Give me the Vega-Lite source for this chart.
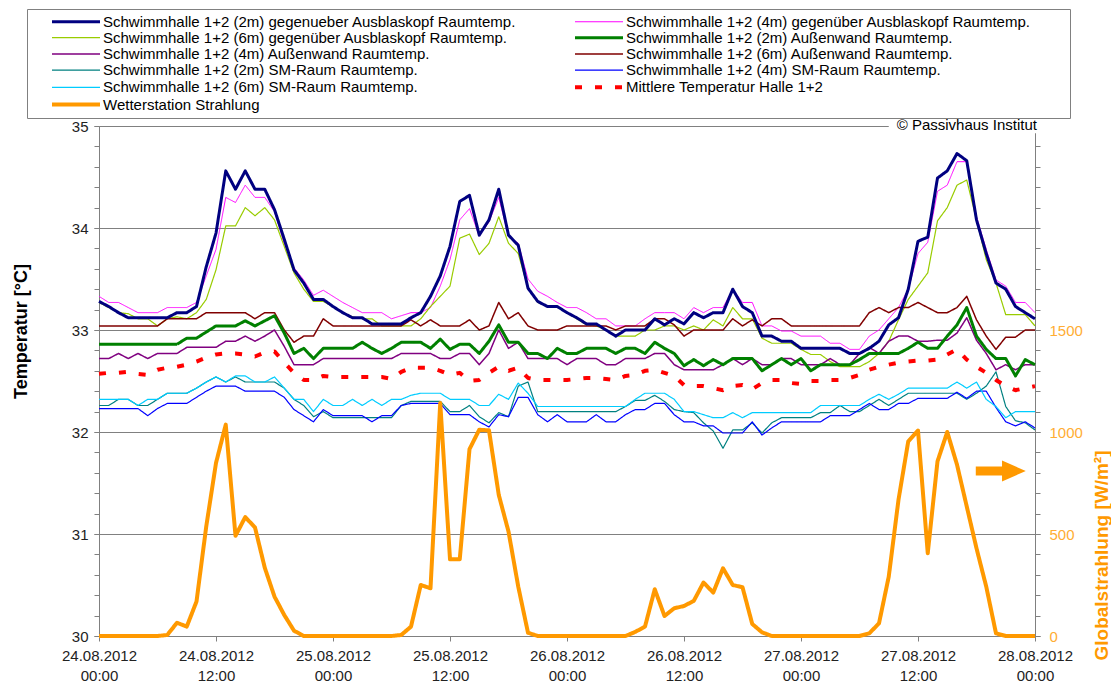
{
"$schema":"https://vega.github.io/schema/vega-lite/v6.json",
"width":936,"height":510,
"autosize":{"type":"none"},
"padding":{"left":99,"top":126,"right":76,"bottom":49},
"background":"white",
"config":{"view":{"stroke":null},"font":"Liberation Sans",
"axis":{"labelFont":"Liberation Sans","titleFont":"Liberation Sans","domainColor":"#808080","tickColor":"#808080","labelColor":"#222222","labelFontSize":15,"tickSize":5,"grid":false,"labelOverlap":false}},
"data":{"values":[
{"h":0,"s":"B","v":33.33},{"h":1,"s":"B","v":33.27},{"h":2,"s":"B","v":33.27},{"h":3,"s":"B","v":33.22},{"h":4,"s":"B","v":33.17},{"h":5,"s":"B","v":33.17},{"h":6,"s":"B","v":33.17},{"h":7,"s":"B","v":33.22},{"h":8,"s":"B","v":33.22},{"h":9,"s":"B","v":33.22},
{"h":10,"s":"B","v":33.27},{"h":11,"s":"B","v":33.53},{"h":12,"s":"B","v":33.79},{"h":13,"s":"B","v":34.30},{"h":14,"s":"B","v":34.25},{"h":15,"s":"B","v":34.42},{"h":16,"s":"B","v":34.30},{"h":17,"s":"B","v":34.30},{"h":18,"s":"B","v":34.16},{"h":19,"s":"B","v":33.85},
{"h":20,"s":"B","v":33.61},{"h":21,"s":"B","v":33.49},{"h":22,"s":"B","v":33.34},{"h":23,"s":"B","v":33.39},{"h":24,"s":"B","v":33.33},{"h":25,"s":"B","v":33.27},{"h":26,"s":"B","v":33.22},{"h":27,"s":"B","v":33.17},{"h":28,"s":"B","v":33.17},{"h":29,"s":"B","v":33.17},
{"h":30,"s":"B","v":33.11},{"h":31,"s":"B","v":33.14},{"h":32,"s":"B","v":33.17},{"h":33,"s":"B","v":33.17},{"h":34,"s":"B","v":33.22},{"h":35,"s":"B","v":33.43},{"h":36,"s":"B","v":33.69},{"h":37,"s":"B","v":34.08},{"h":38,"s":"B","v":34.19},{"h":39,"s":"B","v":33.92},
{"h":40,"s":"B","v":34.06},{"h":41,"s":"B","v":34.30},{"h":42,"s":"B","v":33.92},{"h":43,"s":"B","v":33.85},{"h":44,"s":"B","v":33.50},{"h":45,"s":"B","v":33.38},{"h":46,"s":"B","v":33.33},{"h":47,"s":"B","v":33.27},{"h":48,"s":"B","v":33.22},{"h":49,"s":"B","v":33.22},
{"h":50,"s":"B","v":33.17},{"h":51,"s":"B","v":33.11},{"h":52,"s":"B","v":33.11},{"h":53,"s":"B","v":33.04},{"h":54,"s":"B","v":33.04},{"h":55,"s":"B","v":33.04},{"h":56,"s":"B","v":33.11},{"h":57,"s":"B","v":33.17},{"h":58,"s":"B","v":33.17},{"h":59,"s":"B","v":33.17},
{"h":60,"s":"B","v":33.11},{"h":61,"s":"B","v":33.22},{"h":62,"s":"B","v":33.17},{"h":63,"s":"B","v":33.22},{"h":64,"s":"B","v":33.22},{"h":65,"s":"B","v":33.40},{"h":66,"s":"B","v":33.27},{"h":67,"s":"B","v":33.27},{"h":68,"s":"B","v":33.04},{"h":69,"s":"B","v":33.04},
{"h":70,"s":"B","v":32.99},{"h":71,"s":"B","v":32.99},{"h":72,"s":"B","v":32.94},{"h":73,"s":"B","v":32.94},{"h":74,"s":"B","v":32.94},{"h":75,"s":"B","v":32.87},{"h":76,"s":"B","v":32.87},{"h":77,"s":"B","v":32.81},{"h":78,"s":"B","v":32.81},{"h":79,"s":"B","v":32.94},
{"h":80,"s":"B","v":33.00},{"h":81,"s":"B","v":33.11},{"h":82,"s":"B","v":33.22},{"h":83,"s":"B","v":33.40},{"h":84,"s":"B","v":33.75},{"h":85,"s":"B","v":33.86},{"h":86,"s":"B","v":34.36},{"h":87,"s":"B","v":34.42},{"h":88,"s":"B","v":34.65},{"h":89,"s":"B","v":34.65},
{"h":90,"s":"B","v":34.11},{"h":91,"s":"B","v":33.79},{"h":92,"s":"B","v":33.49},{"h":93,"s":"B","v":33.43},{"h":94,"s":"B","v":33.27},{"h":95,"s":"B","v":33.27},{"h":96,"s":"B","v":33.17},
{"h":0,"s":"C","v":33.27},{"h":1,"s":"C","v":33.22},{"h":2,"s":"C","v":33.17},{"h":3,"s":"C","v":33.16},{"h":4,"s":"C","v":33.11},{"h":5,"s":"C","v":33.11},{"h":6,"s":"C","v":33.04},{"h":7,"s":"C","v":33.11},{"h":8,"s":"C","v":33.13},{"h":9,"s":"C","v":33.11},
{"h":10,"s":"C","v":33.17},{"h":11,"s":"C","v":33.30},{"h":12,"s":"C","v":33.59},{"h":13,"s":"C","v":34.02},{"h":14,"s":"C","v":34.02},{"h":15,"s":"C","v":34.20},{"h":16,"s":"C","v":34.12},{"h":17,"s":"C","v":34.20},{"h":18,"s":"C","v":34.08},{"h":19,"s":"C","v":33.82},
{"h":20,"s":"C","v":33.56},{"h":21,"s":"C","v":33.40},{"h":22,"s":"C","v":33.28},{"h":23,"s":"C","v":33.28},{"h":24,"s":"C","v":33.23},{"h":25,"s":"C","v":33.17},{"h":26,"s":"C","v":33.13},{"h":27,"s":"C","v":33.11},{"h":28,"s":"C","v":33.11},{"h":29,"s":"C","v":33.04},
{"h":30,"s":"C","v":33.04},{"h":31,"s":"C","v":33.04},{"h":32,"s":"C","v":33.04},{"h":33,"s":"C","v":33.11},{"h":34,"s":"C","v":33.23},{"h":35,"s":"C","v":33.33},{"h":36,"s":"C","v":33.43},{"h":37,"s":"C","v":33.90},{"h":38,"s":"C","v":33.94},{"h":39,"s":"C","v":33.74},
{"h":40,"s":"C","v":33.85},{"h":41,"s":"C","v":34.11},{"h":42,"s":"C","v":33.85},{"h":43,"s":"C","v":33.75},{"h":44,"s":"C","v":33.41},{"h":45,"s":"C","v":33.27},{"h":46,"s":"C","v":33.23},{"h":47,"s":"C","v":33.23},{"h":48,"s":"C","v":33.17},{"h":49,"s":"C","v":33.11},
{"h":50,"s":"C","v":33.05},{"h":51,"s":"C","v":33.04},{"h":52,"s":"C","v":33.00},{"h":53,"s":"C","v":32.94},{"h":54,"s":"C","v":32.94},{"h":55,"s":"C","v":32.94},{"h":56,"s":"C","v":33.00},{"h":57,"s":"C","v":33.00},{"h":58,"s":"C","v":33.04},{"h":59,"s":"C","v":33.04},
{"h":60,"s":"C","v":33.00},{"h":61,"s":"C","v":33.04},{"h":62,"s":"C","v":33.00},{"h":63,"s":"C","v":33.10},{"h":64,"s":"C","v":33.04},{"h":65,"s":"C","v":33.22},{"h":66,"s":"C","v":33.11},{"h":67,"s":"C","v":33.11},{"h":68,"s":"C","v":32.92},{"h":69,"s":"C","v":32.87},
{"h":70,"s":"C","v":32.87},{"h":71,"s":"C","v":32.87},{"h":72,"s":"C","v":32.81},{"h":73,"s":"C","v":32.76},{"h":74,"s":"C","v":32.76},{"h":75,"s":"C","v":32.69},{"h":76,"s":"C","v":32.64},{"h":77,"s":"C","v":32.64},{"h":78,"s":"C","v":32.64},{"h":79,"s":"C","v":32.69},
{"h":80,"s":"C","v":32.77},{"h":81,"s":"C","v":32.89},{"h":82,"s":"C","v":33.10},{"h":83,"s":"C","v":33.30},{"h":84,"s":"C","v":33.43},{"h":85,"s":"C","v":33.56},{"h":86,"s":"C","v":34.07},{"h":87,"s":"C","v":34.20},{"h":88,"s":"C","v":34.42},{"h":89,"s":"C","v":34.47},
{"h":90,"s":"C","v":34.08},{"h":91,"s":"C","v":33.69},{"h":92,"s":"C","v":33.46},{"h":93,"s":"C","v":33.15},{"h":94,"s":"C","v":33.15},{"h":95,"s":"C","v":33.15},{"h":96,"s":"C","v":33.04},
{"h":0,"s":"E","v":32.72},{"h":1,"s":"E","v":32.72},{"h":2,"s":"E","v":32.77},{"h":3,"s":"E","v":32.72},{"h":4,"s":"E","v":32.77},{"h":5,"s":"E","v":32.72},{"h":6,"s":"E","v":32.77},{"h":7,"s":"E","v":32.77},{"h":8,"s":"E","v":32.77},{"h":9,"s":"E","v":32.83},
{"h":10,"s":"E","v":32.83},{"h":11,"s":"E","v":32.83},{"h":12,"s":"E","v":32.83},{"h":13,"s":"E","v":32.89},{"h":14,"s":"E","v":32.89},{"h":15,"s":"E","v":32.94},{"h":16,"s":"E","v":32.89},{"h":17,"s":"E","v":32.94},{"h":18,"s":"E","v":33.00},{"h":19,"s":"E","v":32.84},
{"h":20,"s":"E","v":32.66},{"h":21,"s":"E","v":32.66},{"h":22,"s":"E","v":32.66},{"h":23,"s":"E","v":32.72},{"h":24,"s":"E","v":32.72},{"h":25,"s":"E","v":32.72},{"h":26,"s":"E","v":32.72},{"h":27,"s":"E","v":32.72},{"h":28,"s":"E","v":32.72},{"h":29,"s":"E","v":32.72},
{"h":30,"s":"E","v":32.72},{"h":31,"s":"E","v":32.77},{"h":32,"s":"E","v":32.77},{"h":33,"s":"E","v":32.77},{"h":34,"s":"E","v":32.77},{"h":35,"s":"E","v":32.72},{"h":36,"s":"E","v":32.72},{"h":37,"s":"E","v":32.77},{"h":38,"s":"E","v":32.77},{"h":39,"s":"E","v":32.66},
{"h":40,"s":"E","v":32.77},{"h":41,"s":"E","v":33.00},{"h":42,"s":"E","v":32.82},{"h":43,"s":"E","v":32.88},{"h":44,"s":"E","v":32.72},{"h":45,"s":"E","v":32.72},{"h":46,"s":"E","v":32.72},{"h":47,"s":"E","v":32.72},{"h":48,"s":"E","v":32.66},{"h":49,"s":"E","v":32.72},
{"h":50,"s":"E","v":32.72},{"h":51,"s":"E","v":32.72},{"h":52,"s":"E","v":32.66},{"h":53,"s":"E","v":32.66},{"h":54,"s":"E","v":32.72},{"h":55,"s":"E","v":32.72},{"h":56,"s":"E","v":32.72},{"h":57,"s":"E","v":32.77},{"h":58,"s":"E","v":32.77},{"h":59,"s":"E","v":32.66},
{"h":60,"s":"E","v":32.61},{"h":61,"s":"E","v":32.61},{"h":62,"s":"E","v":32.61},{"h":63,"s":"E","v":32.61},{"h":64,"s":"E","v":32.66},{"h":65,"s":"E","v":32.72},{"h":66,"s":"E","v":32.66},{"h":67,"s":"E","v":32.72},{"h":68,"s":"E","v":32.66},{"h":69,"s":"E","v":32.66},
{"h":70,"s":"E","v":32.72},{"h":71,"s":"E","v":32.72},{"h":72,"s":"E","v":32.66},{"h":73,"s":"E","v":32.66},{"h":74,"s":"E","v":32.66},{"h":75,"s":"E","v":32.72},{"h":76,"s":"E","v":32.66},{"h":77,"s":"E","v":32.66},{"h":78,"s":"E","v":32.77},{"h":79,"s":"E","v":32.83},
{"h":80,"s":"E","v":32.77},{"h":81,"s":"E","v":32.89},{"h":82,"s":"E","v":32.94},{"h":83,"s":"E","v":32.94},{"h":84,"s":"E","v":32.89},{"h":85,"s":"E","v":32.89},{"h":86,"s":"E","v":32.90},{"h":87,"s":"E","v":32.90},{"h":88,"s":"E","v":32.97},{"h":89,"s":"E","v":33.12},
{"h":90,"s":"E","v":32.90},{"h":91,"s":"E","v":32.77},{"h":92,"s":"E","v":32.61},{"h":93,"s":"E","v":32.66},{"h":94,"s":"E","v":32.61},{"h":95,"s":"E","v":32.66},{"h":96,"s":"E","v":32.66},
{"h":0,"s":"F","v":33.04},{"h":1,"s":"F","v":33.04},{"h":2,"s":"F","v":33.04},{"h":3,"s":"F","v":33.04},{"h":4,"s":"F","v":33.04},{"h":5,"s":"F","v":33.04},{"h":6,"s":"F","v":33.04},{"h":7,"s":"F","v":33.11},{"h":8,"s":"F","v":33.11},{"h":9,"s":"F","v":33.11},
{"h":10,"s":"F","v":33.11},{"h":11,"s":"F","v":33.17},{"h":12,"s":"F","v":33.17},{"h":13,"s":"F","v":33.17},{"h":14,"s":"F","v":33.17},{"h":15,"s":"F","v":33.17},{"h":16,"s":"F","v":33.11},{"h":17,"s":"F","v":33.17},{"h":18,"s":"F","v":33.17},{"h":19,"s":"F","v":33.00},
{"h":20,"s":"F","v":32.88},{"h":21,"s":"F","v":32.94},{"h":22,"s":"F","v":32.94},{"h":23,"s":"F","v":33.11},{"h":24,"s":"F","v":33.04},{"h":25,"s":"F","v":33.04},{"h":26,"s":"F","v":33.04},{"h":27,"s":"F","v":33.04},{"h":28,"s":"F","v":33.04},{"h":29,"s":"F","v":33.04},
{"h":30,"s":"F","v":33.04},{"h":31,"s":"F","v":33.04},{"h":32,"s":"F","v":33.10},{"h":33,"s":"F","v":33.04},{"h":34,"s":"F","v":33.10},{"h":35,"s":"F","v":33.04},{"h":36,"s":"F","v":33.04},{"h":37,"s":"F","v":33.04},{"h":38,"s":"F","v":33.10},{"h":39,"s":"F","v":33.00},
{"h":40,"s":"F","v":33.04},{"h":41,"s":"F","v":33.27},{"h":42,"s":"F","v":33.11},{"h":43,"s":"F","v":33.17},{"h":44,"s":"F","v":33.04},{"h":45,"s":"F","v":33.00},{"h":46,"s":"F","v":33.00},{"h":47,"s":"F","v":33.00},{"h":48,"s":"F","v":33.04},{"h":49,"s":"F","v":33.04},
{"h":50,"s":"F","v":33.04},{"h":51,"s":"F","v":33.04},{"h":52,"s":"F","v":33.04},{"h":53,"s":"F","v":33.00},{"h":54,"s":"F","v":33.04},{"h":55,"s":"F","v":33.04},{"h":56,"s":"F","v":33.04},{"h":57,"s":"F","v":33.11},{"h":58,"s":"F","v":33.11},{"h":59,"s":"F","v":33.05},
{"h":60,"s":"F","v":32.94},{"h":61,"s":"F","v":33.00},{"h":62,"s":"F","v":33.00},{"h":63,"s":"F","v":33.00},{"h":64,"s":"F","v":33.00},{"h":65,"s":"F","v":33.11},{"h":66,"s":"F","v":33.04},{"h":67,"s":"F","v":33.10},{"h":68,"s":"F","v":33.04},{"h":69,"s":"F","v":33.11},
{"h":70,"s":"F","v":33.11},{"h":71,"s":"F","v":33.04},{"h":72,"s":"F","v":33.04},{"h":73,"s":"F","v":33.04},{"h":74,"s":"F","v":33.04},{"h":75,"s":"F","v":33.04},{"h":76,"s":"F","v":33.04},{"h":77,"s":"F","v":33.04},{"h":78,"s":"F","v":33.04},{"h":79,"s":"F","v":33.17},
{"h":80,"s":"F","v":33.22},{"h":81,"s":"F","v":33.17},{"h":82,"s":"F","v":33.22},{"h":83,"s":"F","v":33.22},{"h":84,"s":"F","v":33.27},{"h":85,"s":"F","v":33.22},{"h":86,"s":"F","v":33.17},{"h":87,"s":"F","v":33.17},{"h":88,"s":"F","v":33.22},{"h":89,"s":"F","v":33.33},
{"h":90,"s":"F","v":33.10},{"h":91,"s":"F","v":32.94},{"h":92,"s":"F","v":32.81},{"h":93,"s":"F","v":32.93},{"h":94,"s":"F","v":32.93},{"h":95,"s":"F","v":33.00},{"h":96,"s":"F","v":33.00},
{"h":0,"s":"G","v":32.26},{"h":1,"s":"G","v":32.26},{"h":2,"s":"G","v":32.32},{"h":3,"s":"G","v":32.32},{"h":4,"s":"G","v":32.26},{"h":5,"s":"G","v":32.26},{"h":6,"s":"G","v":32.32},{"h":7,"s":"G","v":32.38},{"h":8,"s":"G","v":32.38},{"h":9,"s":"G","v":32.38},
{"h":10,"s":"G","v":32.43},{"h":11,"s":"G","v":32.49},{"h":12,"s":"G","v":32.54},{"h":13,"s":"G","v":32.49},{"h":14,"s":"G","v":32.54},{"h":15,"s":"G","v":32.49},{"h":16,"s":"G","v":32.49},{"h":17,"s":"G","v":32.49},{"h":18,"s":"G","v":32.49},{"h":19,"s":"G","v":32.43},
{"h":20,"s":"G","v":32.32},{"h":21,"s":"G","v":32.26},{"h":22,"s":"G","v":32.15},{"h":23,"s":"G","v":32.20},{"h":24,"s":"G","v":32.14},{"h":25,"s":"G","v":32.14},{"h":26,"s":"G","v":32.14},{"h":27,"s":"G","v":32.14},{"h":28,"s":"G","v":32.14},{"h":29,"s":"G","v":32.14},
{"h":30,"s":"G","v":32.14},{"h":31,"s":"G","v":32.26},{"h":32,"s":"G","v":32.30},{"h":33,"s":"G","v":32.30},{"h":34,"s":"G","v":32.30},{"h":35,"s":"G","v":32.30},{"h":36,"s":"G","v":32.20},{"h":37,"s":"G","v":32.20},{"h":38,"s":"G","v":32.26},{"h":39,"s":"G","v":32.15},
{"h":40,"s":"G","v":32.09},{"h":41,"s":"G","v":32.19},{"h":42,"s":"G","v":32.15},{"h":43,"s":"G","v":32.45},{"h":44,"s":"G","v":32.49},{"h":45,"s":"G","v":32.20},{"h":46,"s":"G","v":32.20},{"h":47,"s":"G","v":32.20},{"h":48,"s":"G","v":32.20},{"h":49,"s":"G","v":32.20},
{"h":50,"s":"G","v":32.20},{"h":51,"s":"G","v":32.20},{"h":52,"s":"G","v":32.20},{"h":53,"s":"G","v":32.20},{"h":54,"s":"G","v":32.25},{"h":55,"s":"G","v":32.31},{"h":56,"s":"G","v":32.31},{"h":57,"s":"G","v":32.36},{"h":58,"s":"G","v":32.30},{"h":59,"s":"G","v":32.22},
{"h":60,"s":"G","v":32.20},{"h":61,"s":"G","v":32.19},{"h":62,"s":"G","v":32.09},{"h":63,"s":"G","v":32.01},{"h":64,"s":"G","v":31.84},{"h":65,"s":"G","v":32.02},{"h":66,"s":"G","v":32.02},{"h":67,"s":"G","v":32.09},{"h":68,"s":"G","v":31.99},{"h":69,"s":"G","v":32.09},
{"h":70,"s":"G","v":32.14},{"h":71,"s":"G","v":32.14},{"h":72,"s":"G","v":32.14},{"h":73,"s":"G","v":32.14},{"h":74,"s":"G","v":32.19},{"h":75,"s":"G","v":32.19},{"h":76,"s":"G","v":32.26},{"h":77,"s":"G","v":32.20},{"h":78,"s":"G","v":32.20},{"h":79,"s":"G","v":32.26},
{"h":80,"s":"G","v":32.32},{"h":81,"s":"G","v":32.26},{"h":82,"s":"G","v":32.32},{"h":83,"s":"G","v":32.38},{"h":84,"s":"G","v":32.38},{"h":85,"s":"G","v":32.38},{"h":86,"s":"G","v":32.38},{"h":87,"s":"G","v":32.38},{"h":88,"s":"G","v":32.38},{"h":89,"s":"G","v":32.32},
{"h":90,"s":"G","v":32.38},{"h":91,"s":"G","v":32.45},{"h":92,"s":"G","v":32.59},{"h":93,"s":"G","v":32.25},{"h":94,"s":"G","v":32.11},{"h":95,"s":"G","v":32.09},{"h":96,"s":"G","v":32.02},
{"h":0,"s":"H","v":32.23},{"h":1,"s":"H","v":32.23},{"h":2,"s":"H","v":32.23},{"h":3,"s":"H","v":32.23},{"h":4,"s":"H","v":32.23},{"h":5,"s":"H","v":32.16},{"h":6,"s":"H","v":32.23},{"h":7,"s":"H","v":32.28},{"h":8,"s":"H","v":32.28},{"h":9,"s":"H","v":32.28},
{"h":10,"s":"H","v":32.34},{"h":11,"s":"H","v":32.40},{"h":12,"s":"H","v":32.45},{"h":13,"s":"H","v":32.45},{"h":14,"s":"H","v":32.45},{"h":15,"s":"H","v":32.40},{"h":16,"s":"H","v":32.40},{"h":17,"s":"H","v":32.40},{"h":18,"s":"H","v":32.40},{"h":19,"s":"H","v":32.34},
{"h":20,"s":"H","v":32.22},{"h":21,"s":"H","v":32.16},{"h":22,"s":"H","v":32.10},{"h":23,"s":"H","v":32.22},{"h":24,"s":"H","v":32.16},{"h":25,"s":"H","v":32.16},{"h":26,"s":"H","v":32.16},{"h":27,"s":"H","v":32.16},{"h":28,"s":"H","v":32.10},{"h":29,"s":"H","v":32.16},
{"h":30,"s":"H","v":32.16},{"h":31,"s":"H","v":32.26},{"h":32,"s":"H","v":32.28},{"h":33,"s":"H","v":32.28},{"h":34,"s":"H","v":32.28},{"h":35,"s":"H","v":32.28},{"h":36,"s":"H","v":32.17},{"h":37,"s":"H","v":32.17},{"h":38,"s":"H","v":32.17},{"h":39,"s":"H","v":32.10},
{"h":40,"s":"H","v":32.05},{"h":41,"s":"H","v":32.17},{"h":42,"s":"H","v":32.15},{"h":43,"s":"H","v":32.34},{"h":44,"s":"H","v":32.34},{"h":45,"s":"H","v":32.17},{"h":46,"s":"H","v":32.10},{"h":47,"s":"H","v":32.17},{"h":48,"s":"H","v":32.10},{"h":49,"s":"H","v":32.10},
{"h":50,"s":"H","v":32.10},{"h":51,"s":"H","v":32.17},{"h":52,"s":"H","v":32.10},{"h":53,"s":"H","v":32.10},{"h":54,"s":"H","v":32.17},{"h":55,"s":"H","v":32.22},{"h":56,"s":"H","v":32.22},{"h":57,"s":"H","v":32.28},{"h":58,"s":"H","v":32.28},{"h":59,"s":"H","v":32.17},
{"h":60,"s":"H","v":32.10},{"h":61,"s":"H","v":32.10},{"h":62,"s":"H","v":32.06},{"h":63,"s":"H","v":32.06},{"h":64,"s":"H","v":31.99},{"h":65,"s":"H","v":31.99},{"h":66,"s":"H","v":31.99},{"h":67,"s":"H","v":32.10},{"h":68,"s":"H","v":31.97},{"h":69,"s":"H","v":32.04},
{"h":70,"s":"H","v":32.10},{"h":71,"s":"H","v":32.10},{"h":72,"s":"H","v":32.10},{"h":73,"s":"H","v":32.10},{"h":74,"s":"H","v":32.10},{"h":75,"s":"H","v":32.16},{"h":76,"s":"H","v":32.16},{"h":77,"s":"H","v":32.16},{"h":78,"s":"H","v":32.22},{"h":79,"s":"H","v":32.28},
{"h":80,"s":"H","v":32.22},{"h":81,"s":"H","v":32.22},{"h":82,"s":"H","v":32.28},{"h":83,"s":"H","v":32.28},{"h":84,"s":"H","v":32.33},{"h":85,"s":"H","v":32.33},{"h":86,"s":"H","v":32.33},{"h":87,"s":"H","v":32.33},{"h":88,"s":"H","v":32.39},{"h":89,"s":"H","v":32.33},
{"h":90,"s":"H","v":32.40},{"h":91,"s":"H","v":32.40},{"h":92,"s":"H","v":32.24},{"h":93,"s":"H","v":32.10},{"h":94,"s":"H","v":32.06},{"h":95,"s":"H","v":32.10},{"h":96,"s":"H","v":32.04},
{"h":0,"s":"I","v":32.32},{"h":1,"s":"I","v":32.32},{"h":2,"s":"I","v":32.32},{"h":3,"s":"I","v":32.32},{"h":4,"s":"I","v":32.26},{"h":5,"s":"I","v":32.32},{"h":6,"s":"I","v":32.32},{"h":7,"s":"I","v":32.38},{"h":8,"s":"I","v":32.38},{"h":9,"s":"I","v":32.38},
{"h":10,"s":"I","v":32.43},{"h":11,"s":"I","v":32.49},{"h":12,"s":"I","v":32.54},{"h":13,"s":"I","v":32.49},{"h":14,"s":"I","v":32.55},{"h":15,"s":"I","v":32.55},{"h":16,"s":"I","v":32.49},{"h":17,"s":"I","v":32.49},{"h":18,"s":"I","v":32.54},{"h":19,"s":"I","v":32.43},
{"h":20,"s":"I","v":32.32},{"h":21,"s":"I","v":32.32},{"h":22,"s":"I","v":32.20},{"h":23,"s":"I","v":32.32},{"h":24,"s":"I","v":32.26},{"h":25,"s":"I","v":32.26},{"h":26,"s":"I","v":32.32},{"h":27,"s":"I","v":32.26},{"h":28,"s":"I","v":32.32},{"h":29,"s":"I","v":32.26},
{"h":30,"s":"I","v":32.32},{"h":31,"s":"I","v":32.32},{"h":32,"s":"I","v":32.36},{"h":33,"s":"I","v":32.38},{"h":34,"s":"I","v":32.38},{"h":35,"s":"I","v":32.38},{"h":36,"s":"I","v":32.32},{"h":37,"s":"I","v":32.32},{"h":38,"s":"I","v":32.32},{"h":39,"s":"I","v":32.26},
{"h":40,"s":"I","v":32.26},{"h":41,"s":"I","v":32.37},{"h":42,"s":"I","v":32.32},{"h":43,"s":"I","v":32.48},{"h":44,"s":"I","v":32.38},{"h":45,"s":"I","v":32.25},{"h":46,"s":"I","v":32.25},{"h":47,"s":"I","v":32.25},{"h":48,"s":"I","v":32.25},{"h":49,"s":"I","v":32.25},
{"h":50,"s":"I","v":32.25},{"h":51,"s":"I","v":32.25},{"h":52,"s":"I","v":32.25},{"h":53,"s":"I","v":32.25},{"h":54,"s":"I","v":32.25},{"h":55,"s":"I","v":32.32},{"h":56,"s":"I","v":32.38},{"h":57,"s":"I","v":32.38},{"h":58,"s":"I","v":32.38},{"h":59,"s":"I","v":32.32},
{"h":60,"s":"I","v":32.20},{"h":61,"s":"I","v":32.20},{"h":62,"s":"I","v":32.17},{"h":63,"s":"I","v":32.14},{"h":64,"s":"I","v":32.14},{"h":65,"s":"I","v":32.19},{"h":66,"s":"I","v":32.14},{"h":67,"s":"I","v":32.19},{"h":68,"s":"I","v":32.19},{"h":69,"s":"I","v":32.19},
{"h":70,"s":"I","v":32.19},{"h":71,"s":"I","v":32.19},{"h":72,"s":"I","v":32.19},{"h":73,"s":"I","v":32.19},{"h":74,"s":"I","v":32.26},{"h":75,"s":"I","v":32.26},{"h":76,"s":"I","v":32.26},{"h":77,"s":"I","v":32.26},{"h":78,"s":"I","v":32.26},{"h":79,"s":"I","v":32.32},
{"h":80,"s":"I","v":32.37},{"h":81,"s":"I","v":32.32},{"h":82,"s":"I","v":32.37},{"h":83,"s":"I","v":32.43},{"h":84,"s":"I","v":32.43},{"h":85,"s":"I","v":32.43},{"h":86,"s":"I","v":32.43},{"h":87,"s":"I","v":32.43},{"h":88,"s":"I","v":32.49},{"h":89,"s":"I","v":32.43},
{"h":90,"s":"I","v":32.49},{"h":91,"s":"I","v":32.32},{"h":92,"s":"I","v":32.25},{"h":93,"s":"I","v":32.14},{"h":94,"s":"I","v":32.20},{"h":95,"s":"I","v":32.20},{"h":96,"s":"I","v":32.20},
{"h":0,"s":"J","v":32.57},{"h":1,"s":"J","v":32.58},{"h":2,"s":"J","v":32.58},{"h":3,"s":"J","v":32.59},{"h":4,"s":"J","v":32.57},{"h":5,"s":"J","v":32.56},{"h":6,"s":"J","v":32.61},{"h":7,"s":"J","v":32.63},{"h":8,"s":"J","v":32.64},{"h":9,"s":"J","v":32.66},
{"h":10,"s":"J","v":32.69},{"h":11,"s":"J","v":32.73},{"h":12,"s":"J","v":32.76},{"h":13,"s":"J","v":32.77},{"h":14,"s":"J","v":32.77},{"h":15,"s":"J","v":32.76},{"h":16,"s":"J","v":32.74},{"h":17,"s":"J","v":32.78},{"h":18,"s":"J","v":32.79},{"h":19,"s":"J","v":32.68},
{"h":20,"s":"J","v":32.58},{"h":21,"s":"J","v":32.51},{"h":22,"s":"J","v":32.51},{"h":23,"s":"J","v":32.55},{"h":24,"s":"J","v":32.54},{"h":25,"s":"J","v":32.54},{"h":26,"s":"J","v":32.54},{"h":27,"s":"J","v":32.54},{"h":28,"s":"J","v":32.54},{"h":29,"s":"J","v":32.54},
{"h":30,"s":"J","v":32.52},{"h":31,"s":"J","v":32.59},{"h":32,"s":"J","v":32.63},{"h":33,"s":"J","v":32.63},{"h":34,"s":"J","v":32.63},{"h":35,"s":"J","v":32.60},{"h":36,"s":"J","v":32.56},{"h":37,"s":"J","v":32.58},{"h":38,"s":"J","v":32.50},{"h":39,"s":"J","v":32.51},
{"h":40,"s":"J","v":32.58},{"h":41,"s":"J","v":32.64},{"h":42,"s":"J","v":32.60},{"h":43,"s":"J","v":32.63},{"h":44,"s":"J","v":32.53},{"h":45,"s":"J","v":32.51},{"h":46,"s":"J","v":32.51},{"h":47,"s":"J","v":32.51},{"h":48,"s":"J","v":32.51},{"h":49,"s":"J","v":32.52},
{"h":50,"s":"J","v":32.53},{"h":51,"s":"J","v":32.53},{"h":52,"s":"J","v":32.52},{"h":53,"s":"J","v":32.51},{"h":54,"s":"J","v":32.55},{"h":55,"s":"J","v":32.56},{"h":56,"s":"J","v":32.60},{"h":57,"s":"J","v":32.61},{"h":58,"s":"J","v":32.58},{"h":59,"s":"J","v":32.55},
{"h":60,"s":"J","v":32.46},{"h":61,"s":"J","v":32.45},{"h":62,"s":"J","v":32.45},{"h":63,"s":"J","v":32.43},{"h":64,"s":"J","v":32.41},{"h":65,"s":"J","v":32.45},{"h":66,"s":"J","v":32.46},{"h":67,"s":"J","v":32.42},{"h":68,"s":"J","v":32.48},{"h":69,"s":"J","v":32.51},
{"h":70,"s":"J","v":32.51},{"h":71,"s":"J","v":32.48},{"h":72,"s":"J","v":32.47},{"h":73,"s":"J","v":32.50},{"h":74,"s":"J","v":32.50},{"h":75,"s":"J","v":32.51},{"h":76,"s":"J","v":32.51},{"h":77,"s":"J","v":32.53},{"h":78,"s":"J","v":32.56},{"h":79,"s":"J","v":32.61},
{"h":80,"s":"J","v":32.64},{"h":81,"s":"J","v":32.66},{"h":82,"s":"J","v":32.68},{"h":83,"s":"J","v":32.69},{"h":84,"s":"J","v":32.70},{"h":85,"s":"J","v":32.70},{"h":86,"s":"J","v":32.71},{"h":87,"s":"J","v":32.76},{"h":88,"s":"J","v":32.81},{"h":89,"s":"J","v":32.71},
{"h":90,"s":"J","v":32.64},{"h":91,"s":"J","v":32.58},{"h":92,"s":"J","v":32.51},{"h":93,"s":"J","v":32.45},{"h":94,"s":"J","v":32.41},{"h":95,"s":"J","v":32.43},{"h":96,"s":"J","v":32.45},
{"h":0,"s":"D","v":32.86},{"h":1,"s":"D","v":32.86},{"h":2,"s":"D","v":32.86},{"h":3,"s":"D","v":32.86},{"h":4,"s":"D","v":32.86},{"h":5,"s":"D","v":32.86},{"h":6,"s":"D","v":32.86},{"h":7,"s":"D","v":32.86},{"h":8,"s":"D","v":32.86},{"h":9,"s":"D","v":32.92},
{"h":10,"s":"D","v":32.92},{"h":11,"s":"D","v":32.98},{"h":12,"s":"D","v":33.04},{"h":13,"s":"D","v":33.04},{"h":14,"s":"D","v":33.04},{"h":15,"s":"D","v":33.09},{"h":16,"s":"D","v":33.04},{"h":17,"s":"D","v":33.09},{"h":18,"s":"D","v":33.14},{"h":19,"s":"D","v":32.97},
{"h":20,"s":"D","v":32.77},{"h":21,"s":"D","v":32.82},{"h":22,"s":"D","v":32.72},{"h":23,"s":"D","v":32.82},{"h":24,"s":"D","v":32.82},{"h":25,"s":"D","v":32.82},{"h":26,"s":"D","v":32.82},{"h":27,"s":"D","v":32.88},{"h":28,"s":"D","v":32.82},{"h":29,"s":"D","v":32.77},
{"h":30,"s":"D","v":32.82},{"h":31,"s":"D","v":32.88},{"h":32,"s":"D","v":32.88},{"h":33,"s":"D","v":32.88},{"h":34,"s":"D","v":32.82},{"h":35,"s":"D","v":32.91},{"h":36,"s":"D","v":32.81},{"h":37,"s":"D","v":32.86},{"h":38,"s":"D","v":32.86},{"h":39,"s":"D","v":32.77},
{"h":40,"s":"D","v":32.89},{"h":41,"s":"D","v":33.05},{"h":42,"s":"D","v":32.88},{"h":43,"s":"D","v":32.88},{"h":44,"s":"D","v":32.77},{"h":45,"s":"D","v":32.77},{"h":46,"s":"D","v":32.72},{"h":47,"s":"D","v":32.82},{"h":48,"s":"D","v":32.77},{"h":49,"s":"D","v":32.77},
{"h":50,"s":"D","v":32.82},{"h":51,"s":"D","v":32.82},{"h":52,"s":"D","v":32.82},{"h":53,"s":"D","v":32.77},{"h":54,"s":"D","v":32.82},{"h":55,"s":"D","v":32.82},{"h":56,"s":"D","v":32.77},{"h":57,"s":"D","v":32.88},{"h":58,"s":"D","v":32.82},{"h":59,"s":"D","v":32.77},
{"h":60,"s":"D","v":32.65},{"h":61,"s":"D","v":32.71},{"h":62,"s":"D","v":32.65},{"h":63,"s":"D","v":32.71},{"h":64,"s":"D","v":32.66},{"h":65,"s":"D","v":32.72},{"h":66,"s":"D","v":32.72},{"h":67,"s":"D","v":32.72},{"h":68,"s":"D","v":32.60},{"h":69,"s":"D","v":32.66},
{"h":70,"s":"D","v":32.72},{"h":71,"s":"D","v":32.66},{"h":72,"s":"D","v":32.72},{"h":73,"s":"D","v":32.60},{"h":74,"s":"D","v":32.66},{"h":75,"s":"D","v":32.66},{"h":76,"s":"D","v":32.66},{"h":77,"s":"D","v":32.66},{"h":78,"s":"D","v":32.71},{"h":79,"s":"D","v":32.77},
{"h":80,"s":"D","v":32.77},{"h":81,"s":"D","v":32.77},{"h":82,"s":"D","v":32.77},{"h":83,"s":"D","v":32.82},{"h":84,"s":"D","v":32.88},{"h":85,"s":"D","v":32.82},{"h":86,"s":"D","v":32.82},{"h":87,"s":"D","v":32.94},{"h":88,"s":"D","v":33.05},{"h":89,"s":"D","v":33.22},
{"h":90,"s":"D","v":32.94},{"h":91,"s":"D","v":32.81},{"h":92,"s":"D","v":32.72},{"h":93,"s":"D","v":32.72},{"h":94,"s":"D","v":32.55},{"h":95,"s":"D","v":32.71},{"h":96,"s":"D","v":32.66},
{"h":0,"s":"A","v":33.28},{"h":1,"s":"A","v":33.23},{"h":2,"s":"A","v":33.17},{"h":3,"s":"A","v":33.12},{"h":4,"s":"A","v":33.12},{"h":5,"s":"A","v":33.12},{"h":6,"s":"A","v":33.12},{"h":7,"s":"A","v":33.12},{"h":8,"s":"A","v":33.17},{"h":9,"s":"A","v":33.17},
{"h":10,"s":"A","v":33.23},{"h":11,"s":"A","v":33.62},{"h":12,"s":"A","v":33.95},{"h":13,"s":"A","v":34.56},{"h":14,"s":"A","v":34.38},{"h":15,"s":"A","v":34.56},{"h":16,"s":"A","v":34.38},{"h":17,"s":"A","v":34.38},{"h":18,"s":"A","v":34.18},{"h":19,"s":"A","v":33.89},
{"h":20,"s":"A","v":33.59},{"h":21,"s":"A","v":33.46},{"h":22,"s":"A","v":33.30},{"h":23,"s":"A","v":33.30},{"h":24,"s":"A","v":33.23},{"h":25,"s":"A","v":33.17},{"h":26,"s":"A","v":33.12},{"h":27,"s":"A","v":33.12},{"h":28,"s":"A","v":33.06},{"h":29,"s":"A","v":33.06},
{"h":30,"s":"A","v":33.06},{"h":31,"s":"A","v":33.06},{"h":32,"s":"A","v":33.12},{"h":33,"s":"A","v":33.17},{"h":34,"s":"A","v":33.33},{"h":35,"s":"A","v":33.53},{"h":36,"s":"A","v":33.82},{"h":37,"s":"A","v":34.26},{"h":38,"s":"A","v":34.32},{"h":39,"s":"A","v":33.93},
{"h":40,"s":"A","v":34.08},{"h":41,"s":"A","v":34.38},{"h":42,"s":"A","v":33.93},{"h":43,"s":"A","v":33.83},{"h":44,"s":"A","v":33.41},{"h":45,"s":"A","v":33.28},{"h":46,"s":"A","v":33.23},{"h":47,"s":"A","v":33.23},{"h":48,"s":"A","v":33.17},{"h":49,"s":"A","v":33.12},
{"h":50,"s":"A","v":33.06},{"h":51,"s":"A","v":33.06},{"h":52,"s":"A","v":33.00},{"h":53,"s":"A","v":32.94},{"h":54,"s":"A","v":33.00},{"h":55,"s":"A","v":33.00},{"h":56,"s":"A","v":33.00},{"h":57,"s":"A","v":33.11},{"h":58,"s":"A","v":33.05},{"h":59,"s":"A","v":33.11},
{"h":60,"s":"A","v":33.06},{"h":61,"s":"A","v":33.17},{"h":62,"s":"A","v":33.12},{"h":63,"s":"A","v":33.17},{"h":64,"s":"A","v":33.17},{"h":65,"s":"A","v":33.40},{"h":66,"s":"A","v":33.23},{"h":67,"s":"A","v":33.17},{"h":68,"s":"A","v":32.94},{"h":69,"s":"A","v":32.94},
{"h":70,"s":"A","v":32.89},{"h":71,"s":"A","v":32.89},{"h":72,"s":"A","v":32.82},{"h":73,"s":"A","v":32.82},{"h":74,"s":"A","v":32.82},{"h":75,"s":"A","v":32.82},{"h":76,"s":"A","v":32.82},{"h":77,"s":"A","v":32.77},{"h":78,"s":"A","v":32.77},{"h":79,"s":"A","v":32.82},
{"h":80,"s":"A","v":32.89},{"h":81,"s":"A","v":33.05},{"h":82,"s":"A","v":33.12},{"h":83,"s":"A","v":33.40},{"h":84,"s":"A","v":33.87},{"h":85,"s":"A","v":33.91},{"h":86,"s":"A","v":34.49},{"h":87,"s":"A","v":34.56},{"h":88,"s":"A","v":34.73},{"h":89,"s":"A","v":34.66},
{"h":90,"s":"A","v":34.08},{"h":91,"s":"A","v":33.75},{"h":92,"s":"A","v":33.46},{"h":93,"s":"A","v":33.40},{"h":94,"s":"A","v":33.23},{"h":95,"s":"A","v":33.17},{"h":96,"s":"A","v":33.11},
{"h":0,"s":"K","v":0},{"h":1,"s":"K","v":0},{"h":2,"s":"K","v":0},{"h":3,"s":"K","v":0},{"h":4,"s":"K","v":0},{"h":5,"s":"K","v":0},{"h":6,"s":"K","v":0},{"h":7,"s":"K","v":5},{"h":8,"s":"K","v":65},{"h":9,"s":"K","v":46},
{"h":10,"s":"K","v":169},{"h":11,"s":"K","v":537},{"h":12,"s":"K","v":848},{"h":13,"s":"K","v":1036},{"h":14,"s":"K","v":491},{"h":15,"s":"K","v":583},{"h":16,"s":"K","v":532},{"h":17,"s":"K","v":335},{"h":18,"s":"K","v":193},{"h":19,"s":"K","v":103},
{"h":20,"s":"K","v":26},{"h":21,"s":"K","v":0},{"h":22,"s":"K","v":0},{"h":23,"s":"K","v":0},{"h":24,"s":"K","v":0},{"h":25,"s":"K","v":0},{"h":26,"s":"K","v":0},{"h":27,"s":"K","v":0},{"h":28,"s":"K","v":0},{"h":29,"s":"K","v":0},
{"h":30,"s":"K","v":0},{"h":31,"s":"K","v":5},{"h":32,"s":"K","v":46},{"h":33,"s":"K","v":250},{"h":34,"s":"K","v":234},{"h":35,"s":"K","v":1142},{"h":36,"s":"K","v":376},{"h":37,"s":"K","v":376},{"h":38,"s":"K","v":916},{"h":39,"s":"K","v":1011},
{"h":40,"s":"K","v":1008},{"h":41,"s":"K","v":692},{"h":42,"s":"K","v":512},{"h":43,"s":"K","v":242},{"h":44,"s":"K","v":16},{"h":45,"s":"K","v":0},{"h":46,"s":"K","v":0},{"h":47,"s":"K","v":0},{"h":48,"s":"K","v":0},{"h":49,"s":"K","v":0},
{"h":50,"s":"K","v":0},{"h":51,"s":"K","v":0},{"h":52,"s":"K","v":0},{"h":53,"s":"K","v":0},{"h":54,"s":"K","v":0},{"h":55,"s":"K","v":20},{"h":56,"s":"K","v":46},{"h":57,"s":"K","v":229},{"h":58,"s":"K","v":98},{"h":59,"s":"K","v":136},
{"h":60,"s":"K","v":147},{"h":61,"s":"K","v":172},{"h":62,"s":"K","v":262},{"h":63,"s":"K","v":213},{"h":64,"s":"K","v":332},{"h":65,"s":"K","v":250},{"h":66,"s":"K","v":239},{"h":67,"s":"K","v":59},{"h":68,"s":"K","v":18},{"h":69,"s":"K","v":0},
{"h":70,"s":"K","v":0},{"h":71,"s":"K","v":0},{"h":72,"s":"K","v":0},{"h":73,"s":"K","v":0},{"h":74,"s":"K","v":0},{"h":75,"s":"K","v":0},{"h":76,"s":"K","v":0},{"h":77,"s":"K","v":0},{"h":78,"s":"K","v":0},{"h":79,"s":"K","v":13},
{"h":80,"s":"K","v":62},{"h":81,"s":"K","v":291},{"h":82,"s":"K","v":668},{"h":83,"s":"K","v":954},{"h":84,"s":"K","v":1007},{"h":85,"s":"K","v":406},{"h":86,"s":"K","v":856},{"h":87,"s":"K","v":1000},{"h":88,"s":"K","v":840},{"h":89,"s":"K","v":635},
{"h":90,"s":"K","v":430},{"h":91,"s":"K","v":242},{"h":92,"s":"K","v":13},{"h":93,"s":"K","v":0},{"h":94,"s":"K","v":0},{"h":95,"s":"K","v":0},{"h":96,"s":"K","v":0}
]},
"layer":[
{"layer":[
{"layer":[
{"transform":[{"filter":"datum.s != 'K'"}],
"mark":{"type":"line","interpolate":"linear","strokeJoin":"round"},
"encoding":{
"x":{"field":"h","type":"quantitative","scale":{"domain":[0,96],"nice":false,"zero":false},
"axis":{"values":[0,12,24,36,48,60,72,84,96],"title":null,"grid":false,"labelFlush":false,"labelOverlap":false,"labelPadding":7,"labelLineHeight":20,
"labelExpr":"[['24','24','25','25','26','26','27','27','28'][datum.value/12] + '.08.2012', datum.value % 24 == 0 ? '00:00' : '12:00']"}},
"y":{"field":"v","type":"quantitative","scale":{"domain":[30,35],"nice":false,"zero":false},
"axis":{"orient":"left","values":[30,31,32,33,34,35],"format":"d",
"labelOverlap":false,"labelFlush":false,"labelPadding":6,
"grid":true,"gridColor":"#808080","gridWidth":1,
"title":"Temperatur [°C]","titleFontSize":18,"titleFontWeight":"bold","titleColor":"black","titleAngle":270,"titleX":-78,"titleY":205,"titleBaseline":"middle","titleAlign":"center"}},
"color":{"field":"s","type":"nominal",
"scale":{"domain":["A","B","C","D","E","F","G","H","I","J","K"],"range":["#000080","#FF00FF","#99CC00","#008000","#800080","#800000","#008080","#0000FF","#00CCFF","#FF0000","#FF9900"]},
"legend":{"orient":"none","direction":"horizontal","legendX":-72,"legendY":-117,"title":null,"columns":2,"columnPadding":5,"rowPadding":0.2,"padding":5,
"strokeColor":"#808080","fillColor":"white","symbolType":"M-4.8,0H4.8","symbolSize":100,"symbolOffset":36.5,"labelOffset":19.5,
"labelFontSize":15,"labelFont":"Liberation Sans","labelColor":"black","labelLimit":0,
"labelExpr":"{'A':'Schwimmhalle 1+2 (2m) gegenueber Ausblaskopf Raumtemp.','B':'Schwimmhalle 1+2 (4m) gegenüber Ausblaskopf Raumtemp.','C':'Schwimmhalle 1+2 (6m) gegenüber Ausblaskopf Raumtemp.','D':'Schwimmhalle 1+2 (2m) Außenwand Raumtemp.','E':'Schwimmhalle 1+2 (4m) Außenwand Raumtemp.','F':'Schwimmhalle 1+2 (6m) Außenwand Raumtemp.','G':'Schwimmhalle 1+2 (2m) SM-Raum Raumtemp.','H':'Schwimmhalle 1+2 (4m) SM-Raum Raumtemp.','I':'Schwimmhalle 1+2 (6m) SM-Raum Raumtemp.','J':'Mittlere Temperatur Halle 1+2','K':'Wetterstation Strahlung'}[datum.label] + '\u00a0\u00a0\u00a0\u00a0\u00a0\u00a0\u00a0\u00a0\u200b'"}},
"strokeWidth":{"field":"s","type":"nominal","scale":{"type":"ordinal","domain":["A","B","C","D","E","F","G","H","I","J","K"],"range":[3,1,1.2,3,1.5,1.5,1.2,1.2,1.2,4,4]}},
"strokeDash":{"field":"s","type":"nominal","scale":{"type":"ordinal","domain":["A","B","C","D","E","F","G","H","I","J","K"],"range":[[1,0],[1,0],[1,0],[1,0],[1,0],[1,0],[1,0],[1,0],[1,0],[7,13],[1,0]]}}
}},
{"data":{"values":[{}]},
"mark":{"type":"rect","fill":"white"},
"encoding":{"x":{"datum":81,"type":"quantitative"},"x2":{"datum":96.8},
"y":{"datum":35.13,"type":"quantitative"},"y2":{"datum":34.93}}},
{"data":{"values":[{}]},
"mark":{"type":"text","text":"© Passivhaus Institut","align":"right","baseline":"middle","fontSize":15,"font":"Liberation Sans","color":"black"},
"encoding":{"x":{"datum":96.2,"type":"quantitative"},
"y":{"datum":35.01,"type":"quantitative"}}}
]},
{"data":{"values":[{}]},
"mark":{"type":"rule","opacity":0},
"encoding":{"y":{"datum":30,"type":"quantitative","scale":{"domain":[30,35],"nice":false,"zero":false},
"axis":{"orient":"left","values":[30,30.2,30.4,30.6,30.8,31,31.2,31.4,31.6,31.8,32,32.2,32.4,32.6,32.8,33,33.2,33.4,33.6,33.8,34,34.2,34.4,34.6,34.8,35],"labels":false,"grid":false,"domain":false,"title":null,"ticks":true}}}}
],
"resolve":{"axis":{"y":"independent"}}
},
{"layer":[
{"layer":[
{"transform":[{"filter":"datum.s == 'K'"}],
"mark":{"type":"line","interpolate":"linear","strokeJoin":"round"},
"encoding":{
"x":{"field":"h","type":"quantitative"},
"y":{"field":"v","type":"quantitative","scale":{"domain":[0,2500],"nice":false,"zero":false},
"axis":{"orient":"right","values":[0,500,1000,1500],"format":"d","labelOverlap":false,"labelFlush":false,"labelPadding":9,
"labelColor":"#FFAD33","grid":false,
"title":"Globalstrahlung [W/m²]","titleFontSize":19,"titleFontWeight":"bold","titleColor":"#FF9900","titleAngle":270,"titleX":66,"titleY":429,"titleBaseline":"middle","titleAlign":"center"}},
"color":{"field":"s","type":"nominal","scale":{"domain":["A","B","C","D","E","F","G","H","I","J","K"],"range":["#000080","#FF00FF","#99CC00","#008000","#800080","#800000","#008080","#0000FF","#00CCFF","#FF0000","#FF9900"]}},
"strokeWidth":{"field":"s","type":"nominal","scale":{"type":"ordinal","domain":["A","B","C","D","E","F","G","H","I","J","K"],"range":[3,1,1.2,3,1.5,1.5,1.2,1.2,1.2,4,4]}},
"strokeDash":{"field":"s","type":"nominal","scale":{"type":"ordinal","domain":["A","B","C","D","E","F","G","H","I","J","K"],"range":[[1,0],[1,0],[1,0],[1,0],[1,0],[1,0],[1,0],[1,0],[1,0],[7,13],[1,0]]}}
}},
{"data":{"values":[{}]},
"mark":{"type":"point","shape":"M-1,-0.18L0.05,-0.18L0.05,-0.42L1,0L0.05,0.42L0.05,0.18L-1,0.18Z","size":2500,"filled":true,"color":"#FF9900","opacity":1,"strokeWidth":0},
"encoding":{"x":{"datum":92.49,"type":"quantitative"},
"y":{"datum":809,"type":"quantitative"}}}
]},
{"data":{"values":[{}]},
"mark":{"type":"rule","opacity":0},
"encoding":{"y":{"datum":0,"type":"quantitative","scale":{"domain":[0,2500],"nice":false,"zero":false},
"axis":{"orient":"right","values":[0,100,200,300,400,500,600,700,800,900,1000,1100,1200,1300,1400,1500,1600,1700,1800,1900,2000,2100,2200,2300,2400,2500],"labels":false,"grid":false,"domain":false,"title":null,"ticks":true}}}}
],
"resolve":{"axis":{"y":"independent"}}
}
],
"resolve":{"scale":{"y":"independent"},"axis":{"y":"independent"}}
}
